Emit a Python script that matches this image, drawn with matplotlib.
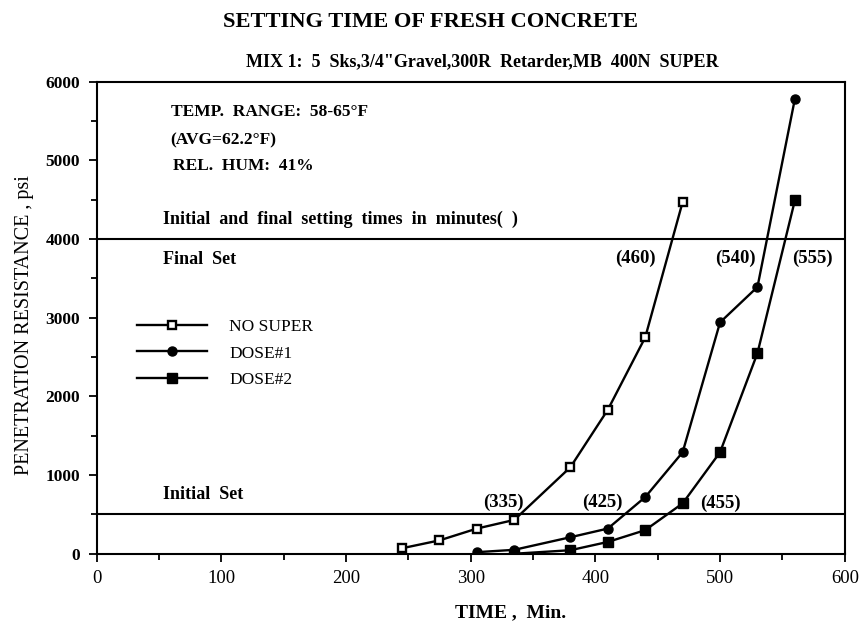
import matplotlib
matplotlib.use("Agg")
import matplotlib.pyplot as plt
from matplotlib.ticker import MultipleLocator

plt.rcParams['font.family'] = ['Liberation Serif', 'DejaVu Serif']

# Data
no_super_t = [245, 275, 305, 335, 380, 410, 440, 470]
no_super_p = [70, 170, 320, 430, 1100, 1830, 2750, 4470]
dose1_t = [305, 335, 380, 410, 440, 470, 500, 530, 560]
dose1_p = [20, 50, 210, 320, 720, 1290, 2940, 3390, 5780]
dose2_t = [335, 380, 410, 440, 470, 500, 530, 560]
dose2_p = [0, 45, 150, 300, 640, 1290, 2550, 4490]
series_labels = ["NO SUPER", "DOSE#1", "DOSE#2"]
final_set = 4000
initial_set = 500
final_times = ["(460)", "(540)", "(555)"]
initial_times = ["(335)", "(425)", "(455)"]

fig = plt.figure(figsize=(8.62, 6.25), dpi=100)
ax = fig.add_axes([0.112, 0.114, 0.868, 0.7555])

lw = 1.7
ax.plot(no_super_t, no_super_p, '-', color='black', lw=lw, marker='s', ms=6,
        mfc='white', mec='black', mew=1.7, label=series_labels[0])
ax.plot(dose1_t, dose1_p, '-', color='black', lw=lw, marker='o', ms=6.5,
        mfc='black', mec='black', label=series_labels[1])
ax.plot(dose2_t, dose2_p, '-', color='black', lw=lw, marker='s', ms=6.5,
        mfc='black', mec='black', label=series_labels[2])

ax.axhline(final_set, color='black', lw=1.5)
ax.axhline(initial_set, color='black', lw=1.5)

ax.set_xlim(0, 600)
ax.set_ylim(0, 6000)
ax.xaxis.set_major_locator(MultipleLocator(100))
ax.xaxis.set_minor_locator(MultipleLocator(50))
ax.yaxis.set_major_locator(MultipleLocator(1000))
ax.yaxis.set_minor_locator(MultipleLocator(500))
ax.tick_params(which='both', direction='out', width=1.3, pad=6)
ax.tick_params(which='major', length=6)
ax.tick_params(which='minor', length=4)
ax.tick_params(axis='x', labelsize=13.5)
ax.tick_params(axis='y', labelsize=12.5)
for lab in ax.get_yticklabels():
    lab.set_fontweight('bold')
for s in ax.spines.values():
    s.set_linewidth(1.5)

tfs = 12.5
ax.text(59.5, 5611, "TEMP.  RANGE:  58-65°F", fontsize=tfs, fontweight='bold', va='center')
ax.text(59, 5252, "(AVG=62.2°F)", fontsize=tfs, fontweight='bold', va='center')
ax.text(61.6, 4922, "REL.  HUM:  41%", fontsize=tfs, fontweight='bold', va='center')
ax.text(53, 4245, "Initial  and  final  setting  times  in  minutes(  )", fontsize=13,
        fontweight='bold', va='center')
ax.text(53, 3741, "Final  Set", fontsize=13, fontweight='bold', va='center')
ax.text(53, 757, "Initial  Set", fontsize=13, fontweight='bold', va='center')

lfs = 13.5
for xpos, s in zip([432, 512, 574], final_times):
    ax.text(xpos, 3760, s, fontsize=lfs, fontweight='bold', va='center', ha='center')
for xpos, ypos, s in zip([326, 406, 500], [659, 659, 642], initial_times):
    ax.text(xpos, ypos, s, fontsize=lfs, fontweight='bold', va='center', ha='center')

leg = ax.legend(loc='upper left', bbox_to_anchor=(0.045, 0.513), frameon=False,
                fontsize=12.5, handlelength=4.0, labelspacing=0.62, handletextpad=1.3,
                borderaxespad=0)

ax.set_xlabel("TIME ,  Min.", fontsize=14, fontweight='bold')
ax.xaxis.set_label_coords(0.553, -0.106)
ax.set_ylabel("PENETRATION RESISTANCE , psi", fontsize=14.5)
ax.yaxis.set_label_coords(-0.083, 0.485)

fig.text(0.5, 0.965, "SETTING TIME OF FRESH CONCRETE", fontsize=16.2, fontweight='bold',
         ha='center', va='center')
fig.text(0.56, 0.902, 'MIX 1:  5  Sks,3/4"Gravel,300R  Retarder,MB  400N  SUPER', fontsize=13,
         fontweight='bold', ha='center', va='center')

fig.savefig("out.png", dpi=100)
